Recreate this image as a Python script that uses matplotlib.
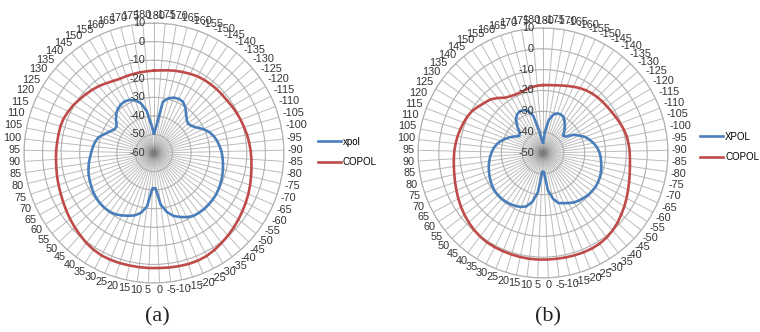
import numpy as np
import matplotlib
matplotlib.use('Agg')
import matplotlib.pyplot as plt
from matplotlib.transforms import offset_copy

# radar categories: angle in degrees, -180 .. 180 step 5 (73 spokes)
angles = list(range(-180, 181, 5))

xpol_a = [-49.5, -45.5, -32.0, -29.5, -28.3, -27.9, -28.3, -30.2, -32.8, -34.8, -35.8, -35.0,
          -33.2, -30.5, -28.2, -26.6, -25.4, -24.5, -23.6, -23.0, -22.4, -21.8, -21.2, -20.7,
          -20.2, -19.8, -19.6, -19.5, -19.5, -19.7, -20.0, -21.2, -22.8, -24.5, -27.5, -32.0,
          -41.0, -41.0, -31.0, -27.0, -24.8, -23.5, -22.2, -21.0, -20.4, -20.2, -20.3, -20.6,
          -21.0, -21.7, -22.3, -22.9, -23.7, -24.5, -25.5, -26.3, -27.0, -27.8, -29.0, -31.5,
          -33.5, -35.2, -35.3, -33.0, -30.9, -29.3, -28.4, -28.0, -28.5, -29.8, -32.2, -37.0,
          -45.0]
copol_a = [-15.6, -15.3, -14.8, -14.2, -13.7, -13.1, -12.5, -12.2, -12.0, -11.8, -11.7, -11.5,
           -11.0, -10.5, -10.0, -9.5, -8.9, -8.4, -7.9, -7.4, -6.9, -6.2, -5.4, -4.6,
           -3.8, -3.0, -2.1, -1.2, -0.3, 0.6, 1.5, 2.3, 2.6, 2.6, 2.4, 2.2,
           2.0, 2.0, 2.0, 2.0, 2.1, 2.1, 2.0, 1.4, 0.6, -0.5, -1.5, -2.5,
           -3.5, -4.4, -5.2, -5.8, -6.3, -6.8, -7.1, -7.3, -7.5, -7.6, -7.6, -7.9,
           -8.7, -9.5, -10.6, -11.5, -12.4, -13.3, -14.4, -15.4, -16.0, -16.0, -16.0, -15.9,
           -15.8]

xpol_b = [-45.0, -40.0, -34.0, -31.0, -29.8, -29.6, -30.1, -31.8, -33.5, -35.4, -37.3, -36.5,
          -33.0, -30.8, -28.4, -26.8, -25.3, -24.0, -23.0, -22.3, -21.8, -21.2, -20.7, -20.3,
          -20.1, -20.0, -20.2, -20.4, -20.9, -21.4, -22.0, -23.0, -24.0, -24.8, -27.5, -32.0,
          -41.0, -41.0, -31.0, -26.0, -23.2, -22.0, -21.4, -20.9, -20.6, -20.4, -20.4, -20.5,
          -20.9, -21.4, -22.0, -22.6, -23.2, -23.9, -24.6, -25.4, -26.3, -27.5, -29.0, -30.8,
          -32.5, -34.5, -36.0, -35.2, -32.5, -29.5, -27.8, -27.1, -27.3, -28.5, -31.5, -39.0,
          -44.0]
copol_b = [-17.4, -17.3, -17.0, -16.5, -15.8, -15.0, -14.2, -13.5, -13.0, -12.6, -12.3, -12.0,
           -11.6, -11.0, -10.3, -9.6, -9.0, -8.7, -8.4, -8.2, -7.8, -7.2, -6.4, -5.5,
           -4.4, -3.3, -2.2, -1.0, 0.0, 0.8, 1.3, 1.5, 1.5, 1.4, 1.3, 1.2,
           1.2, 1.2, 1.2, 1.1, 1.0, 0.9, 0.8, 0.6, 0.2, -0.4, -1.2, -2.0,
           -2.9, -3.8, -4.7, -5.5, -6.2, -6.7, -7.1, -7.4, -7.8, -8.2, -8.7, -9.2,
           -9.7, -10.5, -11.8, -13.0, -14.0, -15.8, -17.8, -18.6, -19.0, -18.9, -18.4, -17.9,
           -17.6]

BLUE = '#4a7ebb'
RED = '#be4b48'
TXT = '#333333'
LBL_FONT = ['Liberation Sans', 'DejaVu Sans']
LEG_FONT = ['Liberation Sans Narrow', 'Liberation Sans', 'DejaVu Sans']

fig = plt.figure(figsize=(7.6, 3.32), dpi=100)
theta = np.arange(len(angles)) * 2 * np.pi / len(angles)


def radar(rect, rmin, xpol, copol, xname, legend_xy):
    ax = fig.add_axes(rect, projection='polar')
    ax.set_theta_zero_location('N')
    ax.set_theta_direction(-1)
    ax.set_ylim(rmin, 10)
    ax.set_xticks(theta)
    ax.set_xticklabels([])
    ax.set_yticks(range(rmin, 11, 10))
    ax.set_yticklabels([])
    ax.tick_params(length=0)
    ax.xaxis.grid(True, color='#7a7a7a', alpha=0.5, lw=0.7)
    ax.yaxis.grid(True, color='#b0b0b0', lw=0.8)
    ax.spines['polar'].set_color('#b0b0b0')
    ax.spines['polar'].set_linewidth(0.8)

    # close the loops back to the first category
    t = np.append(theta, theta[0])
    lx, = ax.plot(t, np.append(xpol, xpol[0]), color=BLUE, lw=1.9, label=xname)
    lc, = ax.plot(t, np.append(copol, copol[0]), color=RED, lw=1.9, label='COPOL')

    # category labels round the rim, pushed out by their half size
    fs = 7.8
    for th, a in zip(theta, angles):
        s = str(a)
        w = fs * (0.556 * sum(ch.isdigit() for ch in s) + 0.333 * s.count('-'))
        h = fs * 0.72
        d = 2.5 + 0.5 * w * abs(np.sin(th)) + 0.5 * h * abs(np.cos(th))
        tr = offset_copy(ax.transData, fig=fig, x=d * np.sin(th), y=d * np.cos(th), units='points')
        ax.text(th, 10, s, transform=tr, ha='center', va='center', fontsize=fs,
                color=TXT, family=LBL_FONT, clip_on=False)

    # value labels along the top spoke
    for v in range(rmin, 11, 10):
        tr = offset_copy(ax.transData, fig=fig, x=-6.5, y=0, units='points')
        ax.text(0, v, str(v), transform=tr, ha='right', va='center', fontsize=fs,
                color=TXT, family=LBL_FONT)

    fig.legend(handles=[lx, lc], loc='upper left', bbox_to_anchor=legend_xy,
               frameon=False, handlelength=2.4, handletextpad=0.2,
               labelspacing=1.05, borderpad=0, borderaxespad=0,
               prop={'family': LEG_FONT, 'size': 7})
    return ax


radar([0.0316, 0.1476, 0.342, 0.783], -60, xpol_a, copol_a, 'xpol', (0.418, 0.588))
radar([0.55, 0.1627, 0.329, 0.753], -50, xpol_b, copol_b, 'XPOL', (0.921, 0.603))

fig.text(157 / 760, 1 - 317 / 332, '(a)', ha='center', va='center', fontsize=16,
         family=['Liberation Serif', 'DejaVu Serif'], color='#222222')
fig.text(548 / 760, 1 - 317 / 332, '(b)', ha='center', va='center', fontsize=16,
         family=['Liberation Serif', 'DejaVu Serif'], color='#222222')

fig.savefig('out.png', dpi=100, facecolor='white')
